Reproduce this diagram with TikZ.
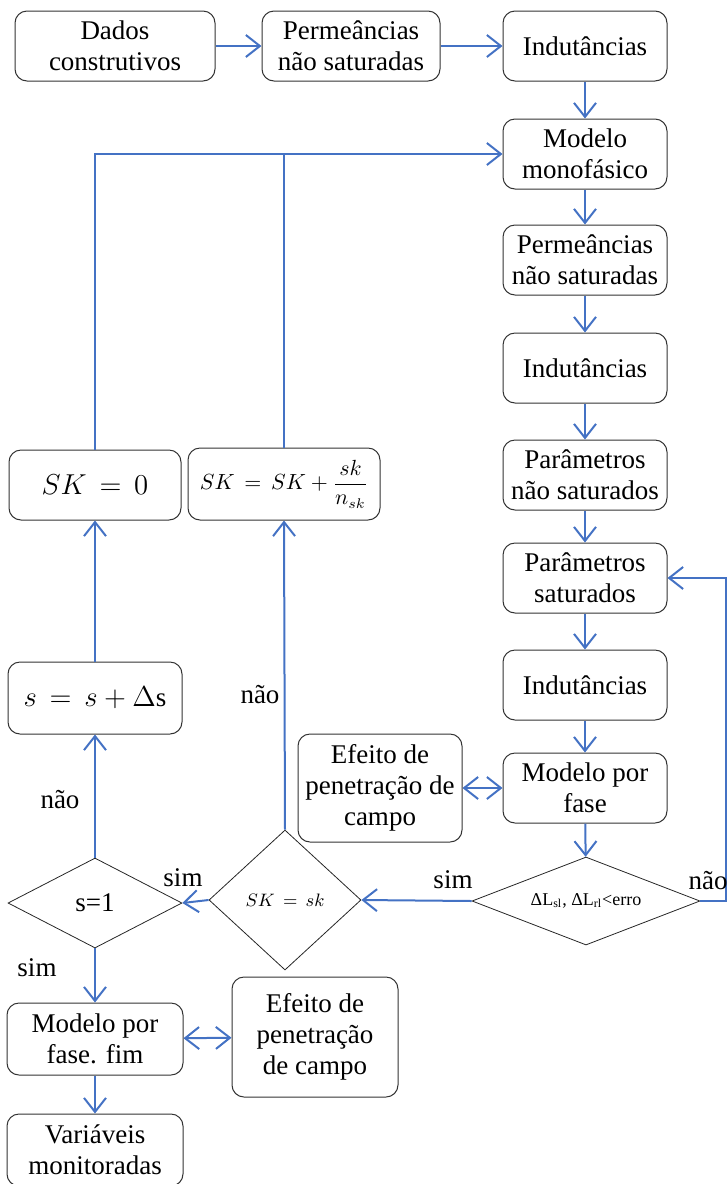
\documentclass[tikz,border=0pt]{standalone}
\usepackage{fontspec}
\setmainfont{Liberation Serif}
\usetikzlibrary{shapes.geometric,arrows.meta}
\definecolor{linkblue}{RGB}{68,114,196}

\begin{document}
\begin{tikzpicture}[x=0.5pt,y=-0.5pt,
  every node/.style={font=\fontsize{13.5}{15.5}\selectfont},
  box/.style={draw=black!80,line width=0.5pt,rounded corners=6pt,align=center,minimum width=82pt,minimum height=35pt,inner sep=2pt},
  choice/.style={draw=black!85,line width=0.4pt,diamond,inner sep=0pt,align=center},
  small/.style={font=\fontsize{9}{11}\selectfont},
  link/.style={draw=linkblue,line width=1pt,-{Straight Barb[length=7pt,width=11pt]}},
  both/.style={link,{Straight Barb[length=7pt,width=11pt]}-{Straight Barb[length=7pt,width=11pt]}}]
\useasboundingbox (0,0) rectangle (728,1184);

% top row
\node (dados) at (115,46) [box,minimum width=100pt] {Dados\\construtivos};
\node (perm0) at (351,46) [box,minimum width=89pt] {Permeâncias\\não saturadas};
\node (ind0)  at (585,46) [box] {Indutâncias};
\draw [link] (dados) -- (perm0);
\draw [link] (perm0) -- (ind0);

% right column
\node (mono)  at (585,154) [box] {Modelo\\monofásico};
\node (perm1) at (585,260) [box] {Permeâncias\\não saturadas};
\node (ind1)  at (585,368) [box] {Indutâncias};
\node (parns) at (585,475) [box] {Parâmetros\\não saturados};
\node (pars)  at (585,578) [box] {Parâmetros\\saturados};
\node (ind2)  at (585,685) [box] {Indutâncias};
\node (fase)  at (585,788) [box] {Modelo por\\fase};
\node (erro)  at (586,901) [choice,small,shape aspect=2.6,minimum width=114pt,minimum height=44pt] {ΔL\textsubscript{sl}, ΔL\textsubscript{rl}<erro};
\draw [link] (ind0) -- (mono);
\draw [link] (mono) -- (perm1);
\draw [link] (perm1) -- (ind1);
\draw [link] (ind1) -- (parns);
\draw [link] (parns) -- (pars);
\draw [link] (pars) -- (ind2);
\draw [link] (ind2) -- (fase);
\draw [link] (fase) -- (erro);

\node (efeito) at (380,788) [box,minimum width=82pt,minimum height=54pt] {Efeito de\\penetração de\\campo};
\draw [both] (fase) -- (efeito);

% back to saturated parameters
\coordinate (back) at (726,901);
\draw [link] (erro.east) -- (back) |- (pars.east);
\node (nao1) at (708,881) {não};

% left part
\node (sksk)  at (285,900) [choice,small,shape aspect=1.1,minimum width=76pt,minimum height=70pt] {$SK\,=\,sk$};
\node (s1)    at (95,903) [choice,shape aspect=1.9,minimum width=87pt,minimum height=45pt] {s=1};
\node (sk0)   at (95,485) [box,minimum width=86pt] {$SK\,=\,0$};
\node (skinc) at (284,484) [box,font=\fontsize{10.5}{12}\selectfont,minimum width=96pt,minimum height=36pt] {$SK\,=\,SK+\displaystyle\frac{sk}{n_{sk}}$};
\node (ds)    at (95,698) [box,minimum width=87pt,minimum height=36pt] {$s\,=\,s+\Delta\mathrm{s}$};
\node (fim)   at (95,1039) [box,minimum width=88pt,minimum height=36pt] {Modelo por\\fase. fim};
\node (efeito2) at (315,1037) [box,minimum width=83pt,minimum height=60pt] {Efeito de\\penetração\\de campo};
\node (vars)  at (95,1150) [box,minimum width=88pt,minimum height=36pt] {Variáveis\\monitoradas};

\draw [link] (erro.west) -- (sksk.east);
\node (sim1) at (453,880) {sim};
\draw [link] (sksk.west) -- (s1.east);
\node (sim2) at (183,878) {sim};
\draw [link] (sksk.north) -- (skinc.south);
\node (nao2) at (260,695) {não};
\draw [link] (s1.north) -- (ds.south);
\node (nao3) at (60,800) {não};
\draw [link] (ds.north) -- (sk0.south);
\draw [link] (sk0.north) |- (mono.west);
\draw [linkblue,line width=1pt] (skinc.north) -- (skinc.north |- mono.west);
\draw [link] (s1.south) -- (fim);
\node (sim3) at (37,968) {sim};
\draw [both] (fim) -- (efeito2);
\draw [link] (fim) -- (vars);
\end{tikzpicture}
\end{document}
